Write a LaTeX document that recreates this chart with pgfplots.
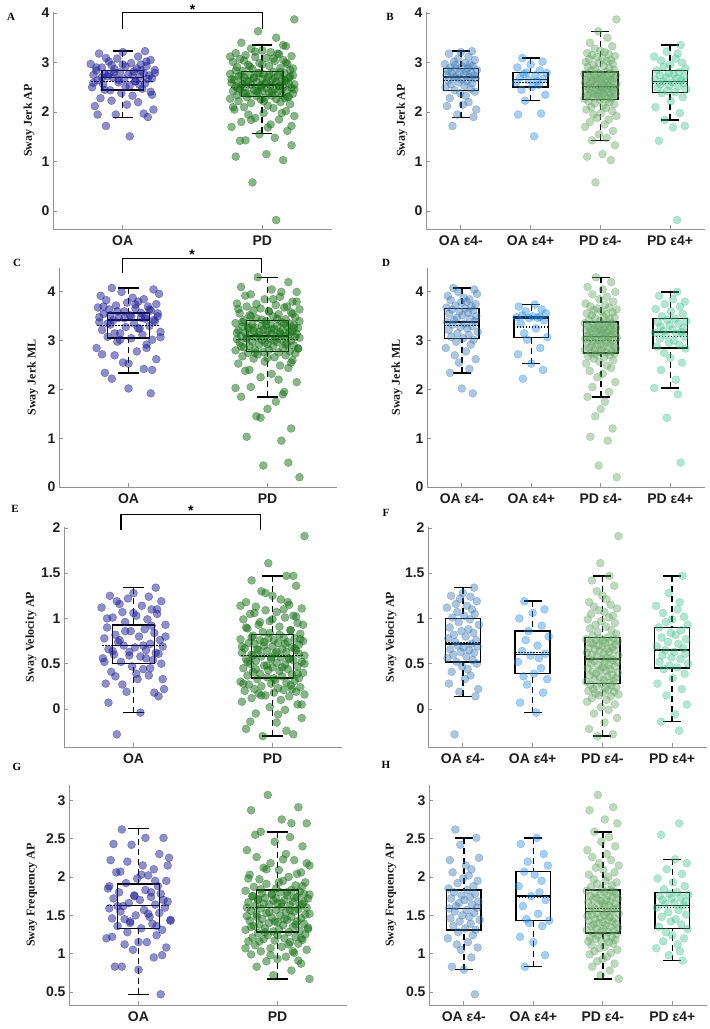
\documentclass[border=0pt]{standalone}
\usepackage{pgfplots}
\pgfplotsset{compat=1.18}
\usepgfplotslibrary{statistics}
\usepackage{pgfplotstable}
\usepackage{fontspec}
\setmainfont{Liberation Serif}
\newfontfamily\arial{Liberation Sans}

\newcommand\tickfont{\arial\bfseries\fontsize{14}{16}\selectfont}
\newcommand\labfont{\bfseries\fontsize{12}{14}\selectfont}
\newcommand\letfont{\bfseries\fontsize{11}{13}\selectfont}

\definecolor{oaL}{RGB}{30,30,150}
\definecolor{pdL}{RGB}{20,110,20}
\definecolor{oaN}{RGB}{60,120,180}
\definecolor{oaP}{RGB}{40,140,230}
\definecolor{pdN}{RGB}{100,165,100}
\definecolor{pdP}{RGB}{70,195,150}

% dx = jitter, jap = Sway Jerk AP, jml = Sway Jerk ML, vap = Sway Velocity AP, fap = Sway Frequency AP
\pgfplotstableread{
dx jap jml vap fap
-0.12 1.72 4.08 -0.28 2.62
0.18 1.90 4.05 0.14 2.51
-0.05 1.95 4.00 0.19 2.42
0.22 2.05 3.96 0.22 2.25
-0.20 2.12 3.92 0.28 2.22
0.03 2.15 3.88 0.33 2.15
0.11 2.20 3.85 0.37 2.10
-0.16 2.28 3.83 0.41 2.06
0.07 2.33 3.80 0.44 2.02
-0.01 2.38 3.78 0.47 1.98
0.20 2.41 3.75 0.50 1.95
-0.09 2.44 3.72 0.52 1.92
0.14 2.47 3.70 0.54 1.88
-0.22 2.50 3.68 0.56 1.85
0.05 2.53 3.66 0.58 1.83
-0.14 2.56 3.64 0.60 1.80
0.16 2.58 3.62 0.62 1.78
-0.03 2.60 3.60 0.63 1.76
0.09 2.62 3.57 0.65 1.74
-0.18 2.64 3.55 0.66 1.72
0.01 2.66 3.52 0.68 1.70
0.21 2.68 3.50 0.69 1.68
-0.07 2.70 3.47 0.70 1.66
0.12 2.71 3.45 0.72 1.64
-0.11 2.72 3.42 0.74 1.62
0.19 2.74 3.40 0.76 1.60
-0.21 2.75 3.38 0.78 1.59
0.04 2.76 3.35 0.80 1.57
-0.13 2.78 3.33 0.82 1.55
0.15 2.79 3.30 0.84 1.53
-0.02 2.80 3.28 0.86 1.50
0.08 2.82 3.25 0.88 1.48
-0.19 2.84 3.22 0.90 1.46
0.23 2.85 3.18 0.93 1.44
-0.06 2.87 3.15 0.96 1.42
0.10 2.88 3.12 0.99 1.39
-0.15 2.90 3.08 1.01 1.36
0.02 2.92 3.05 1.03 1.33
0.17 2.93 3.02 1.05 1.31
-0.08 2.95 2.98 1.07 1.28
0.13 2.96 2.92 1.10 1.24
-0.23 2.97 2.85 1.12 1.20
0.06 2.99 2.78 1.14 1.15
-0.10 3.02 2.70 1.16 1.12
0.20 3.05 2.62 1.19 1.08
-0.04 3.08 2.55 1.22 1.05
0.11 3.12 2.42 1.24 0.95
-0.17 3.18 2.34 1.25 0.83
0.00 3.21 2.02 1.28 0.79
0.16 3.23 1.92 1.34 0.47
}\oaneg

\pgfplotstableread{
dx jap jml vap fap
0.05 1.51 3.74 -0.04 2.51
-0.18 1.95 3.70 0.07 2.43
0.15 1.97 3.64 0.18 2.30
-0.08 2.23 3.60 0.27 2.20
0.21 2.35 3.56 0.33 2.15
-0.13 2.45 3.52 0.36 2.07
0.02 2.51 3.50 0.39 2.03
0.12 2.55 3.49 0.45 1.95
-0.21 2.59 3.48 0.52 1.88
0.09 2.62 3.47 0.56 1.80
-0.03 2.65 3.46 0.59 1.75
0.18 2.67 3.42 0.61 1.70
-0.15 2.70 3.35 0.64 1.62
0.07 2.74 3.25 0.70 1.52
-0.10 2.77 3.15 0.76 1.45
0.23 2.79 3.07 0.80 1.43
-0.06 2.80 3.02 0.86 1.40
0.13 2.84 2.85 0.92 1.36
-0.19 2.90 2.72 1.00 1.22
0.00 2.96 2.53 1.06 1.15
0.17 3.02 2.40 1.10 0.98
-0.12 3.09 2.22 1.19 0.83
}\oapos

\pgfplotstableread{
dx jap jml vap fap
-0.07 0.58 4.30 -0.30 3.07
0.15 1.03 4.20 -0.28 2.91
-0.19 1.10 4.10 -0.22 2.87
0.03 1.15 4.05 -0.15 2.75
0.21 1.33 4.00 -0.10 2.70
-0.12 1.43 3.95 -0.05 2.59
0.09 1.48 3.90 -0.01 2.52
-0.02 1.55 3.85 0.02 2.46
0.18 1.62 3.80 0.05 2.40
-0.22 1.70 3.76 0.08 2.35
0.06 1.75 3.73 0.10 2.30
-0.15 1.80 3.70 0.12 2.26
0.12 1.85 3.68 0.14 2.22
-0.05 1.88 3.66 0.15 2.18
0.23 1.92 3.64 0.16 2.15
-0.10 1.95 3.62 0.17 2.12
0.01 1.98 3.60 0.18 2.09
0.17 2.02 3.58 0.19 2.06
-0.20 2.05 3.56 0.20 2.03
0.08 2.08 3.54 0.21 2.00
-0.13 2.10 3.52 0.22 1.97
0.04 2.13 3.50 0.23 1.95
0.20 2.16 3.48 0.24 1.93
-0.08 2.18 3.46 0.25 1.91
0.13 2.20 3.44 0.26 1.89
-0.17 2.22 3.42 0.27 1.87
-0.01 2.25 3.40 0.28 1.85
0.10 2.26 3.38 0.29 1.83
-0.23 2.27 3.36 0.30 1.82
0.16 2.28 3.35 0.31 1.81
0.02 2.29 3.34 0.32 1.80
-0.11 2.30 3.33 0.33 1.79
0.19 2.31 3.32 0.34 1.78
-0.04 2.32 3.31 0.35 1.77
0.07 2.33 3.30 0.36 1.76
-0.18 2.34 3.29 0.37 1.75
0.14 2.35 3.28 0.38 1.74
-0.09 2.36 3.27 0.39 1.73
0.22 2.37 3.26 0.40 1.72
-0.14 2.38 3.25 0.41 1.71
0.05 2.39 3.24 0.42 1.70
-0.03 2.40 3.23 0.43 1.69
0.11 2.41 3.22 0.44 1.68
-0.21 2.42 3.21 0.45 1.67
0.00 2.43 3.20 0.46 1.66
0.18 2.44 3.19 0.47 1.65
-0.06 2.45 3.18 0.48 1.64
0.09 2.46 3.17 0.49 1.63
-0.16 2.47 3.16 0.50 1.62
0.03 2.48 3.15 0.51 1.61
0.21 2.49 3.14 0.52 1.60
-0.12 2.50 3.13 0.53 1.59
0.15 2.50 3.12 0.54 1.58
-0.01 2.51 3.11 0.55 1.57
-0.19 2.52 3.10 0.55 1.56
0.12 2.53 3.09 0.56 1.55
0.06 2.54 3.08 0.57 1.54
-0.08 2.55 3.07 0.58 1.53
0.23 2.56 3.06 0.59 1.52
-0.15 2.57 3.05 0.60 1.51
0.02 2.58 3.04 0.61 1.50
-0.22 2.59 3.03 0.62 1.49
0.10 2.60 3.02 0.63 1.48
-0.04 2.61 3.01 0.64 1.47
0.17 2.62 3.00 0.65 1.46
-0.11 2.63 2.98 0.66 1.45
0.07 2.64 2.97 0.66 1.44
-0.20 2.65 2.96 0.67 1.43
0.14 2.66 2.94 0.68 1.42
0.00 2.67 2.93 0.69 1.41
-0.06 2.68 2.92 0.70 1.40
0.19 2.69 2.90 0.71 1.39
-0.13 2.70 2.89 0.72 1.38
0.04 2.71 2.88 0.73 1.37
-0.17 2.72 2.86 0.73 1.36
0.11 2.73 2.85 0.74 1.35
0.22 2.74 2.84 0.75 1.34
-0.09 2.75 2.82 0.76 1.33
0.01 2.76 2.81 0.76 1.32
-0.23 2.77 2.80 0.77 1.31
0.16 2.78 2.78 0.78 1.30
-0.03 2.79 2.77 0.78 1.29
0.08 2.81 2.76 0.79 1.28
-0.14 2.83 2.75 0.81 1.27
0.20 2.85 2.74 0.83 1.25
-0.07 2.87 2.72 0.85 1.24
0.13 2.89 2.70 0.87 1.22
-0.18 2.91 2.68 0.89 1.21
0.05 2.93 2.66 0.91 1.20
-0.10 2.95 2.63 0.93 1.19
0.18 2.97 2.60 0.95 1.18
-0.02 2.99 2.57 0.97 1.17
-0.21 3.01 2.53 0.99 1.16
0.09 3.03 2.49 1.01 1.15
0.15 3.05 2.44 1.03 1.13
-0.16 3.07 2.38 1.05 1.11
0.03 3.09 2.32 1.07 1.09
-0.05 3.11 2.25 1.09 1.07
0.21 3.13 2.15 1.11 1.05
-0.12 3.15 2.05 1.13 1.03
0.12 3.17 1.95 1.15 1.01
-0.19 3.19 1.85 1.18 0.99
0.06 3.21 1.75 1.21 0.96
0.00 3.24 1.60 1.25 0.93
-0.08 3.28 1.45 1.30 0.90
0.17 3.33 1.20 1.36 0.87
-0.15 3.40 1.03 1.42 0.83
0.10 3.50 0.95 1.47 0.78
-0.03 3.63 0.44 1.61 0.72
0.23 3.87 0.20 1.91 0.67
}\pdneg

\pgfplotstableread{
dx jap jml vap fap
0.10 -0.18 4.00 -0.24 2.70
-0.16 1.42 3.92 -0.14 2.55
0.04 1.69 3.85 -0.06 2.23
0.21 1.72 3.80 0.05 2.18
-0.08 1.84 3.75 0.15 2.10
0.14 1.98 3.70 0.22 2.04
-0.21 2.10 3.65 0.28 1.98
0.01 2.22 3.60 0.34 1.93
0.18 2.30 3.55 0.39 1.88
-0.12 2.38 3.50 0.44 1.84
0.07 2.40 3.45 0.46 1.80
-0.04 2.43 3.43 0.48 1.78
0.23 2.46 3.40 0.50 1.77
-0.18 2.49 3.38 0.52 1.75
0.12 2.52 3.35 0.55 1.73
-0.01 2.54 3.32 0.57 1.72
-0.14 2.56 3.29 0.59 1.70
0.19 2.58 3.26 0.61 1.68
0.03 2.60 3.23 0.63 1.66
-0.10 2.62 3.20 0.65 1.65
0.16 2.64 3.18 0.67 1.63
-0.22 2.66 3.16 0.69 1.60
0.09 2.68 3.14 0.72 1.57
-0.06 2.70 3.11 0.74 1.54
0.20 2.72 3.08 0.77 1.51
-0.15 2.74 3.04 0.79 1.48
0.05 2.76 3.00 0.82 1.45
-0.02 2.78 2.96 0.84 1.42
0.13 2.81 2.92 0.87 1.38
-0.19 2.84 2.88 0.90 1.35
0.22 2.88 2.84 0.93 1.32
-0.09 2.92 2.75 0.96 1.28
0.00 2.96 2.65 0.99 1.24
0.17 3.00 2.55 1.02 1.20
-0.13 3.04 2.40 1.06 1.16
0.08 3.08 2.20 1.10 1.12
-0.23 3.12 2.03 1.14 1.07
0.11 3.18 1.90 1.18 1.03
-0.05 3.22 1.42 1.28 0.98
0.15 3.35 0.50 1.47 0.91
}\pdpos

\pgfplotsset{
  boxplot/draw/lower whisker/.code={%
    \draw[black, line width=1.5pt, dash pattern=on 6pt off 4pt]
      (boxplot box cs:\pgfplotsboxplotvalue{lower whisker},0.5) --
      (boxplot box cs:\pgfplotsboxplotvalue{lower quartile},0.5);
    \draw[black, line width=1.5pt, solid]
      (boxplot whisker cs:\pgfplotsboxplotvalue{lower whisker},0) --
      (boxplot whisker cs:\pgfplotsboxplotvalue{lower whisker},1);
  },
  boxplot/draw/upper whisker/.code={%
    \draw[black, line width=1.5pt, dash pattern=on 6pt off 4pt]
      (boxplot box cs:\pgfplotsboxplotvalue{upper whisker},0.5) --
      (boxplot box cs:\pgfplotsboxplotvalue{upper quartile},0.5);
    \draw[black, line width=1.5pt, solid]
      (boxplot whisker cs:\pgfplotsboxplotvalue{upper whisker},0) --
      (boxplot whisker cs:\pgfplotsboxplotvalue{upper whisker},1);
  },
  boxplot/draw/average/.code={%
    \draw[black, line width=1.3pt, dash pattern=on 1.5pt off 1.5pt]
      (boxplot box cs:\pgfplotsboxplotvalue{average},\meanlo) --
      (boxplot box cs:\pgfplotsboxplotvalue{average},\meanhi);
  },
  boxplot/every box/.style={black, line width=1.5pt, solid},
  boxplot/every median/.style={black, line width=1.5pt, solid},
  bx/.style={black, solid, line width=1.5pt, boxplot prepared={#1}},
  dots/.style={only marks, mark=*, mark size=4pt,
    mark options={draw=#1, fill=#1, opacity=0.42}},
  ldots/.style={only marks, mark=*, mark size=4pt,
    mark options={draw=#1, fill=#1, opacity=0.5}},
  panel/.style={
    scale only axis, clip=false, anchor=south west,
    axis lines*=left,
    axis line style={draw=gray!85, line width=0.8pt},
    tick align=inside, major tick length=4pt,
    tick style={draw=gray!85, line width=0.8pt},
    ticklabel style={font=\tickfont, text=black!88},
    xticklabel style={yshift=-3pt},
    ylabel style={font=\labfont, text=black!90, anchor=center},
    boxplot/draw direction=y,
    xmin=0.5,
  },
  two/.style={panel, xmax=2.5, xtick={1,2}, xticklabels={OA,PD},
    boxplot/box extend=0.30, boxplot/whisker extend=0.144},
  four/.style={panel, xmax=4.5, xtick={1,2,3,4},
    xticklabels={OA ε4-,OA ε4+,PD ε4-,PD ε4+},
    boxplot/box extend=0.5, boxplot/whisker extend=0.26},
  yjerk/.style={ytick={0,1,2,3,4}, yticklabels={0,1,2,3,4}},
  yvel/.style={ytick={0,0.5,1,1.5,2}, yticklabels={0,0.5,1,1.5,2}},
  yfreq/.style={ytick={0.5,1,1.5,2,2.5,3}, yticklabels={0.5,1,1.5,2,2.5,3}},
}

\begin{document}
\begin{tikzpicture}
\path[use as bounding box] (0,0) rectangle (710pt,1029pt);

% ---------- left column: OA vs PD ----------
\def\meanlo{-0.25}\def\meanhi{1.25}

\begin{axis}[two, yjerk, at={(53pt,800pt)}, width=279pt, height=217pt,
  ymin=-0.36, ymax=4.02,
  ylabel={Sway Jerk AP}, ylabel style={at={(axis description cs:-0.086,0.5)}}]
\addplot[ldots=oaL] table[x expr=1+\thisrow{dx}, y=jap] {\oaneg};
\addplot[ldots=oaL] table[x expr=1+\thisrow{dx}, y=jap] {\oapos};
\addplot[ldots=pdL] table[x expr=2+\thisrow{dx}, y=jap] {\pdneg};
\addplot[ldots=pdL] table[x expr=2+\thisrow{dx}, y=jap] {\pdpos};
\addplot[bx={draw position=1, lower whisker=1.89, lower quartile=2.45, median=2.70, upper quartile=2.84, upper whisker=3.23, average=2.62}] coordinates {};
\addplot[bx={draw position=2, lower whisker=1.57, lower quartile=2.31, median=2.55, upper quartile=2.82, upper whisker=3.35, average=2.50}] coordinates {};
\draw[black, line width=1.3pt] (axis cs:1,3.67) -- (axis cs:1,4.006) -- (axis cs:2,4.006) -- (axis cs:2,3.67);
\node[font=\tickfont] at (axis cs:1.5,4.07) {*};
\end{axis}

\begin{axis}[two, yjerk, at={(59pt,542pt)}, width=278pt, height=219pt,
  ymin=0, ymax=4.49,
  ylabel={Sway Jerk ML}, ylabel style={at={(axis description cs:-0.094,0.5)}}]
\addplot[ldots=oaL] table[x expr=1+\thisrow{dx}, y=jml] {\oaneg};
\addplot[ldots=oaL] table[x expr=1+\thisrow{dx}, y=jml] {\oapos};
\addplot[ldots=pdL] table[x expr=2+\thisrow{dx}, y=jml] {\pdneg};
\addplot[ldots=pdL] table[x expr=2+\thisrow{dx}, y=jml] {\pdpos};
\addplot[bx={draw position=1, lower whisker=2.34, lower quartile=3.05, median=3.42, upper quartile=3.57, upper whisker=4.08, average=3.31}] coordinates {};
\addplot[bx={draw position=2, lower whisker=1.85, lower quartile=2.78, median=3.10, upper quartile=3.41, upper whisker=4.30, average=3.02}] coordinates {};
\draw[black, line width=1.3pt] (axis cs:0.957,4.39) -- (axis cs:0.957,4.68) -- (axis cs:1.957,4.68) -- (axis cs:1.957,4.39);
\node[font=\tickfont] at (axis cs:1.457,4.76) {*};
\end{axis}

\begin{axis}[two, yvel, at={(64pt,282pt)}, width=278pt, height=220pt,
  ymin=-0.42, ymax=2.01,
  ylabel={Sway Velocity AP}, ylabel style={at={(axis description cs:-0.119,0.5)}}]
\addplot[ldots=oaL] table[x expr=1+\thisrow{dx}, y=vap] {\oaneg};
\addplot[ldots=oaL] table[x expr=1+\thisrow{dx}, y=vap] {\oapos};
\addplot[ldots=pdL] table[x expr=2+\thisrow{dx}, y=vap] {\pdneg};
\addplot[ldots=pdL] table[x expr=2+\thisrow{dx}, y=vap] {\pdpos};
\addplot[bx={draw position=1, lower whisker=-0.04, lower quartile=0.50, median=0.70, upper quartile=0.93, upper whisker=1.34, average=0.70}] coordinates {};
\addplot[bx={draw position=2, lower whisker=-0.30, lower quartile=0.34, median=0.58, upper quartile=0.82, upper whisker=1.47, average=0.59}] coordinates {};
\draw[black, line width=1.3pt] (axis cs:0.91,1.98) -- (axis cs:0.91,2.15) -- (axis cs:1.914,2.15) -- (axis cs:1.914,1.98);
\node[font=\tickfont] at (axis cs:1.412,2.19) {*};
\end{axis}

\begin{axis}[two, yfreq, at={(69pt,24pt)}, width=278pt, height=220pt,
  ymin=0.33, ymax=3.2,
  ylabel={Sway Frequency AP}, ylabel style={at={(axis description cs:-0.133,0.5)}}]
\addplot[ldots=oaL] table[x expr=1+\thisrow{dx}, y=fap] {\oaneg};
\addplot[ldots=oaL] table[x expr=1+\thisrow{dx}, y=fap] {\oapos};
\addplot[ldots=pdL] table[x expr=2+\thisrow{dx}, y=fap] {\pdneg};
\addplot[ldots=pdL] table[x expr=2+\thisrow{dx}, y=fap] {\pdpos};
\addplot[bx={draw position=1, lower whisker=0.47, lower quartile=1.33, median=1.63, upper quartile=1.91, upper whisker=2.63, average=1.63}] coordinates {};
\addplot[bx={draw position=2, lower whisker=0.67, lower quartile=1.28, median=1.60, upper quartile=1.83, upper whisker=2.59, average=1.60}] coordinates {};
\end{axis}

% ---------- right column: by APOE e4 ----------
\def\meanlo{0}\def\meanhi{1}

\begin{axis}[four, yjerk, at={(426pt,800pt)}, width=279pt, height=217pt,
  ymin=-0.36, ymax=4.02,
  ylabel={Sway Jerk AP}, ylabel style={at={(axis description cs:-0.086,0.5)}}]
\addplot[dots=oaN] table[x expr=1+\thisrow{dx}, y=jap] {\oaneg};
\addplot[dots=oaP] table[x expr=2+\thisrow{dx}, y=jap] {\oapos};
\addplot[dots=pdN] table[x expr=3+\thisrow{dx}, y=jap] {\pdneg};
\addplot[dots=pdP] table[x expr=4+\thisrow{dx}, y=jap] {\pdpos};
\addplot[bx={draw position=1, lower whisker=1.89, lower quartile=2.44, median=2.71, upper quartile=2.88, upper whisker=3.23, average=2.64}] coordinates {};
\addplot[bx={draw position=2, lower whisker=2.23, lower quartile=2.51, median=2.66, upper quartile=2.80, upper whisker=3.09, average=2.60}] coordinates {};
\addplot[bx={draw position=3, lower whisker=1.43, lower quartile=2.25, median=2.52, upper quartile=2.81, upper whisker=3.63, average=2.49}] coordinates {};
\addplot[bx={draw position=4, lower whisker=1.84, lower quartile=2.39, median=2.62, upper quartile=2.84, upper whisker=3.35, average=2.57}] coordinates {};
\end{axis}

\begin{axis}[four, yjerk, at={(427pt,542pt)}, width=278pt, height=219pt,
  ymin=0, ymax=4.49,
  ylabel={Sway Jerk ML}, ylabel style={at={(axis description cs:-0.108,0.5)}}]
\addplot[dots=oaN] table[x expr=1+\thisrow{dx}, y=jml] {\oaneg};
\addplot[dots=oaP] table[x expr=2+\thisrow{dx}, y=jml] {\oapos};
\addplot[dots=pdN] table[x expr=3+\thisrow{dx}, y=jml] {\pdneg};
\addplot[dots=pdP] table[x expr=4+\thisrow{dx}, y=jml] {\pdpos};
\addplot[bx={draw position=1, lower whisker=2.34, lower quartile=3.04, median=3.38, upper quartile=3.66, upper whisker=4.08, average=3.31}] coordinates {};
\addplot[bx={draw position=2, lower whisker=2.53, lower quartile=3.07, median=3.46, upper quartile=3.50, upper whisker=3.74, average=3.28}] coordinates {};
\addplot[bx={draw position=3, lower whisker=1.85, lower quartile=2.75, median=3.09, upper quartile=3.38, upper whisker=4.30, average=3.01}] coordinates {};
\addplot[bx={draw position=4, lower whisker=2.03, lower quartile=2.85, median=3.18, upper quartile=3.45, upper whisker=4.00, average=3.08}] coordinates {};
\end{axis}

\begin{axis}[four, yvel, at={(428pt,282pt)}, width=279pt, height=220pt,
  ymin=-0.42, ymax=2.01,
  ylabel={Sway Velocity AP}, ylabel style={at={(axis description cs:-0.133,0.5)}}]
\addplot[dots=oaN] table[x expr=1+\thisrow{dx}, y=vap] {\oaneg};
\addplot[dots=oaP] table[x expr=2+\thisrow{dx}, y=vap] {\oapos};
\addplot[dots=pdN] table[x expr=3+\thisrow{dx}, y=vap] {\pdneg};
\addplot[dots=pdP] table[x expr=4+\thisrow{dx}, y=vap] {\pdpos};
\addplot[bx={draw position=1, lower whisker=0.14, lower quartile=0.52, median=0.72, upper quartile=1.00, upper whisker=1.34, average=0.73}] coordinates {};
\addplot[bx={draw position=2, lower whisker=-0.04, lower quartile=0.39, median=0.60, upper quartile=0.86, upper whisker=1.19, average=0.62}] coordinates {};
\addplot[bx={draw position=3, lower whisker=-0.30, lower quartile=0.28, median=0.55, upper quartile=0.79, upper whisker=1.47, average=0.56}] coordinates {};
\addplot[bx={draw position=4, lower whisker=-0.14, lower quartile=0.45, median=0.65, upper quartile=0.90, upper whisker=1.47, average=0.65}] coordinates {};
\end{axis}

\begin{axis}[four, yfreq, at={(429pt,24pt)}, width=278pt, height=220pt,
  ymin=0.33, ymax=3.2,
  ylabel={Sway Frequency AP}, ylabel style={at={(axis description cs:-0.137,0.5)}}]
\addplot[dots=oaN] table[x expr=1+\thisrow{dx}, y=fap] {\oaneg};
\addplot[dots=oaP] table[x expr=2+\thisrow{dx}, y=fap] {\oapos};
\addplot[dots=pdN] table[x expr=3+\thisrow{dx}, y=fap] {\pdneg};
\addplot[dots=pdP] table[x expr=4+\thisrow{dx}, y=fap] {\pdpos};
\addplot[bx={draw position=1, lower whisker=0.79, lower quartile=1.31, median=1.59, upper quartile=1.83, upper whisker=2.51, average=1.59}] coordinates {};
\addplot[bx={draw position=2, lower whisker=0.83, lower quartile=1.43, median=1.75, upper quartile=2.07, upper whisker=2.51, average=1.74}] coordinates {};
\addplot[bx={draw position=3, lower whisker=0.67, lower quartile=1.27, median=1.55, upper quartile=1.83, upper whisker=2.59, average=1.59}] coordinates {};
\addplot[bx={draw position=4, lower whisker=0.91, lower quartile=1.33, median=1.63, upper quartile=1.80, upper whisker=2.23, average=1.60}] coordinates {};
\end{axis}

% panel letters
\node[font=\letfont] at (11pt,1012pt) {A};
\node[font=\letfont] at (390pt,1012pt) {B};
\node[font=\letfont] at (17pt,766pt) {C};
\node[font=\letfont] at (386pt,766pt) {D};
\node[font=\letfont] at (15pt,520pt) {E};
\node[font=\letfont] at (386pt,516pt) {F};
\node[font=\letfont] at (17pt,262pt) {G};
\node[font=\letfont] at (386pt,264pt) {H};
\end{tikzpicture}
\end{document}
